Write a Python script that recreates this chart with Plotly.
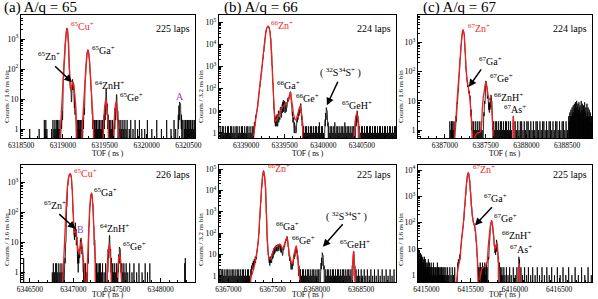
import plotly.graph_objects as go

# ---------------------------------------------------------------- data
# Digitized histogram bins: (TOF reading, counts); fit curves: (TOF reading, counts).
# TOF readings were taken on a per-panel ruler; CAL below maps each ruler onto the
# axis' own tick scale (linear two-point calibration read from the tick labels).

BINS_A1 = [
    # 65Cu / 65Zn
    (6318869, 1), (6318873, 0), (6318877, 2), (6318881, 1), (6318885, 4), (6318889, 2), (6318893, 9),
    (6318897, 25), (6318901, 50), (6318905, 80), (6318909, 130), (6318913, 200), (6318917, 330),
    (6318921, 520), (6318925, 750), (6318929, 1050), (6318933, 1400), (6318937, 1800), (6318941, 2150),
    (6318945, 2300), (6318949, 2100), (6318953, 1700), (6318957, 1300), (6318961, 800), (6318965, 420),
    (6318969, 200), (6318973, 100), (6318977, 60), (6318981, 40), (6318985, 22), (6318989, 12),
    (6318993, 25), (6318997, 8), (6319001, 35), (6319005, 15), (6319009, 45), (6319013, 20),
    (6319017, 42), (6319021, 30), (6319025, 12), (6319029, 28), (6319033, 5), (6319037, 14),
    (6319041, 3), (6319045, 8), (6319049, 1), (6319053, 3), (6319057, 0), (6319061, 2),
    # 65Ga
    (6319131, 1), (6319135, 0), (6319139, 2), (6319143, 1), (6319147, 5), (6319151, 3), (6319155, 18),
    (6319159, 30), (6319163, 45), (6319167, 70), (6319171, 105), (6319175, 150), (6319179, 210),
    (6319183, 290), (6319187, 360), (6319191, 410), (6319195, 435), (6319199, 410), (6319203, 360),
    (6319207, 300), (6319211, 220), (6319215, 160), (6319219, 110), (6319223, 70), (6319227, 45),
    (6319231, 28), (6319235, 18), (6319239, 8), (6319243, 12), (6319247, 3), (6319251, 5),
    (6319255, 1), (6319259, 2),
    # 64ZnH
    (6319380, 1), (6319384, 0), (6319388, 3), (6319392, 1), (6319396, 6), (6319400, 2), (6319404, 12),
    (6319408, 5), (6319412, 22), (6319416, 8), (6319420, 15), (6319424, 3), (6319428, 7), (6319432, 1),
    (6319436, 3), (6319440, 0), (6319444, 1),
    # 65Ge
    (6319505, 1), (6319509, 0), (6319513, 2), (6319517, 1), (6319521, 5), (6319525, 2), (6319529, 9),
    (6319533, 4), (6319537, 14), (6319541, 6), (6319545, 8), (6319549, 2), (6319553, 4), (6319557, 0),
    (6319561, 2),
    # A
    (6320268, 1), (6320272, 0), (6320276, 3), (6320280, 1), (6320284, 6), (6320288, 2), (6320292, 8),
    (6320296, 3), (6320300, 7), (6320304, 2), (6320308, 5), (6320312, 1), (6320316, 3), (6320320, 0),
    (6320324, 2),
    # background
    (6318499, 1), (6318612, 1), (6318674, 2), (6318683, 1), (6318692, 2), (6318705, 1), (6318760, 1),
    (6318777, 2), (6318790, 1), (6318801, 2), (6318812, 1), (6318822, 2), (6318832, 2), (6318840, 1),
    (6318849, 2), (6318858, 1), (6319068, 2), (6319076, 1), (6319084, 2), (6319092, 2), (6319100, 1),
    (6319108, 2), (6319116, 1), (6319123, 2), (6319266, 1), (6319274, 2), (6319282, 1), (6319290, 2),
    (6319299, 2), (6319308, 1), (6319317, 2), (6319326, 1), (6319335, 2), (6319344, 1), (6319353, 2),
    (6319362, 1), (6319371, 2), (6319452, 2), (6319461, 1), (6319470, 2), (6319480, 1), (6319489, 2),
    (6319498, 1), (6319568, 2), (6319578, 1), (6319590, 2), (6319601, 1), (6319614, 2), (6319625, 1),
    (6319638, 2), (6319652, 1), (6319665, 2), (6319690, 1), (6319708, 2), (6319735, 1), (6319760, 2),
    (6319790, 1), (6319812, 2), (6319840, 1), (6319875, 1), (6319907, 2), (6319960, 1), (6320019, 2),
    (6320075, 1), (6320138, 2), (6320190, 1), (6320226, 2), (6320245, 1), (6320345, 2), (6320353, 1),
    (6320362, 2), (6320370, 2), (6320379, 1), (6320388, 2), (6320397, 2), (6320406, 1), (6320415, 2),
    (6320424, 2), (6320433, 1), (6320442, 2), (6320451, 2), (6320460, 1), (6320469, 2),
]
FIT_A1 = [
    (6318850, 0.2), (6318862, 0.6), (6318877, 3), (6318896, 30), (6318916, 300), (6318932, 1300),
    (6318944, 2300), (6318956, 1400), (6318968, 250), (6318980, 40), (6318992, 18), (6319004, 28),
    (6319016, 38), (6319028, 28), (6319044, 8), (6319060, 1.3), (6319075, 0.2),
    (6319110, 0.2), (6319125, 0.8), (6319140, 4), (6319155, 20), (6319170, 100), (6319183, 300),
    (6319195, 430), (6319207, 300), (6319220, 100), (6319235, 20), (6319250, 4), (6319265, 0.8),
    (6319280, 0.2), (6319365, 0.2), (6319380, 1), (6319395, 5), (6319410, 10), (6319425, 5),
    (6319440, 1), (6319455, 0.2), (6319490, 0.2), (6319505, 1), (6319520, 5), (6319533, 8),
    (6319546, 5), (6319561, 1), (6319576, 0.2),
]

BINS_B1 = [
    # 66Zn
    (6339090, 1), (6339094, 0), (6339098, 2), (6339102, 1), (6339106, 3), (6339110, 2), (6339114, 4),
    (6339118, 3), (6339122, 6), (6339126, 5), (6339130, 8), (6339134, 9), (6339138, 12), (6339142, 11),
    (6339145, 14), (6339150, 20), (6339155, 28), (6339160, 45), (6339165, 60), (6339170, 85),
    (6339175, 120), (6339180, 170), (6339185, 240), (6339190, 340), (6339195, 500), (6339200, 700),
    (6339205, 1000), (6339210, 1500), (6339215, 2200), (6339220, 3200), (6339225, 4600),
    (6339230, 6500), (6339235, 9500), (6339240, 14000), (6339245, 20000), (6339250, 28000),
    (6339255, 37000), (6339260, 46000), (6339265, 53000), (6339270, 59000), (6339275, 63000),
    (6339280, 66000), (6339285, 67000), (6339290, 63000), (6339295, 57000), (6339300, 49000),
    (6339305, 40000), (6339310, 31000), (6339315, 20000), (6339320, 11000), (6339325, 5500),
    (6339330, 2500), (6339335, 1100), (6339340, 450), (6339345, 180), (6339350, 70),
    (6339354, 28), (6339358, 12), (6339362, 6), (6339366, 5), (6339370, 3), (6339374, 5),
    (6339378, 2), (6339382, 4),
    (6339386, 6), (6339390, 2), (6339394, 5), (6339398, 3), (6339402, 7), (6339406, 2), (6339410, 8),
    (6339414, 4), (6339418, 10), (6339422, 3), (6339426, 9), (6339430, 5), (6339434, 12), (6339438, 4),
    (6339442, 14), (6339446, 6), (6339450, 15), (6339454, 5), (6339458, 18), (6339462, 7),
    (6339466, 20), (6339470, 8), (6339474, 25), (6339478, 10), (6339482, 30), (6339486, 9),
    (6339490, 22), (6339494, 11), (6339498, 28), (6339502, 8), (6339506, 20), (6339510, 12),
    (6339514, 24), (6339518, 9), (6339522, 18), (6339526, 14), (6339530, 30), (6339534, 20),
    (6339538, 35), (6339542, 25), (6339546, 40), (6339550, 30), (6339554, 40), (6339558, 45),
    (6339562, 55), (6339566, 60), (6339570, 70), (6339574, 72), (6339578, 50), (6339582, 35),
    (6339586, 20), (6339590, 15), (6339594, 8), (6339598, 6), (6339602, 9), (6339606, 3),
    (6339610, 5), (6339614, 2), (6339618, 4), (6339622, 1), (6339626, 3), (6339630, 1), (6339634, 2),
    (6339638, 1), (6339642, 2), (6339646, 1), (6339650, 3), (6339654, 2), (6339658, 4), (6339662, 3),
    (6339666, 5), (6339670, 4), (6339674, 7), (6339678, 5), (6339682, 9), (6339686, 6),
    (6339690, 12), (6339694, 8), (6339698, 16), (6339702, 10), (6339706, 21), (6339710, 9),
    (6339714, 12), (6339718, 4), (6339722, 6), (6339726, 2), (6339730, 3), (6339734, 1),
    # 32S34S
    (6340015, 2), (6340019, 1), (6340023, 4), (6340027, 2), (6340031, 8), (6340035, 4), (6340039, 14),
    (6340043, 6), (6340047, 10), (6340051, 3), (6340055, 6), (6340059, 2), (6340063, 3),
    # 65GeH
    (6340415, 2), (6340419, 1), (6340423, 4), (6340427, 2), (6340431, 7), (6340435, 3), (6340439, 10),
    (6340443, 4), (6340447, 6), (6340451, 2), (6340455, 3),
    # background
    (6338662, 2), (6338676, 1), (6338690, 2), (6338702, 2), (6338716, 1), (6338730, 2), (6338744, 1),
    (6338757, 2), (6338770, 2), (6338784, 1), (6338798, 2), (6338812, 2), (6338826, 1), (6338840, 2),
    (6338853, 1), (6338868, 2), (6338882, 2), (6338896, 1), (6338910, 2), (6338924, 1), (6338938, 2),
    (6338952, 2), (6338966, 1), (6338980, 2), (6338994, 1), (6339008, 2), (6339022, 2), (6339036, 1),
    (6339050, 2), (6339064, 1), (6339078, 2),
    (6339744, 2), (6339755, 1), (6339768, 2), (6339781, 2), (6339794, 1), (6339807, 2), (6339820, 1),
    (6339833, 2), (6339846, 2), (6339859, 1), (6339872, 2), (6339885, 1), (6339898, 2), (6339911, 2),
    (6339924, 1), (6339937, 2), (6339950, 3), (6339963, 1), (6339976, 2), (6339989, 2), (6340002, 1),
    (6340072, 2), (6340085, 1), (6340098, 2), (6340111, 2), (6340124, 1), (6340137, 2), (6340150, 3),
    (6340163, 1), (6340176, 2), (6340189, 2), (6340202, 1), (6340215, 2), (6340228, 1), (6340241, 2),
    (6340254, 2), (6340267, 1), (6340280, 3), (6340293, 2), (6340306, 1), (6340319, 2), (6340332, 2),
    (6340345, 1), (6340358, 2), (6340371, 1), (6340384, 2), (6340397, 2),
    (6340470, 2), (6340483, 1), (6340496, 2), (6340509, 2), (6340522, 1), (6340535, 2), (6340548, 1),
    (6340561, 2), (6340574, 2), (6340587, 1), (6340600, 2), (6340613, 2), (6340626, 1), (6340639, 2),
    (6340652, 1), (6340665, 2), (6340678, 2), (6340691, 1), (6340704, 2), (6340717, 1), (6340730, 2),
    (6340743, 2), (6340756, 1), (6340769, 2), (6340782, 1), (6340795, 2), (6340808, 2), (6340821, 1),
    (6340834, 2), (6340847, 1), (6340860, 2), (6340873, 2), (6340886, 1), (6340899, 2), (6340912, 1),
    (6340925, 2), (6340938, 2),
]
FIT_B1 = [
    (6339086, 0.3), (6339100, 0.8), (6339112, 2), (6339127, 5), (6339142, 11), (6339163, 55),
    (6339185, 250), (6339207, 1200), (6339228, 5600), (6339245, 20000), (6339259, 45000),
    (6339272, 60000), (6339284, 67000), (6339297, 55000), (6339310, 32000), (6339323, 8000),
    (6339336, 1000), (6339347, 150), (6339358, 30), (6339367, 8), (6339375, 3.3), (6339388, 3.6),
    (6339401, 4.5), (6339416, 6), (6339431, 8), (6339452, 11), (6339474, 15), (6339492, 18),
    (6339509, 20), (6339525, 22), (6339539, 25), (6339556, 40), (6339573, 72), (6339586, 35),
    (6339599, 18), (6339612, 8), (6339625, 5), (6339637, 4), (6339647, 4), (6339660, 5.5),
    (6339672, 8), (6339688, 13), (6339703, 17), (6339714, 10), (6339724, 5), (6339735, 1.5),
    (6339746, 0.3), (6340385, 0.3), (6340400, 1), (6340415, 3.5), (6340425, 6), (6340435, 7.5),
    (6340445, 6), (6340455, 3.5), (6340470, 1), (6340485, 0.3),
]

BINS_C1 = [
    # 67Zn / 67Ga
    (6387120, 1), (6387124, 0), (6387128, 2), (6387132, 1), (6387136, 3), (6387140, 2), (6387144, 5),
    (6387148, 4), (6387152, 9), (6387156, 8), (6387160, 16), (6387164, 22), (6387168, 35),
    (6387172, 60), (6387176, 90), (6387180, 140), (6387184, 200), (6387188, 300), (6387192, 420),
    (6387196, 600), (6387200, 850), (6387204, 1100), (6387208, 1500), (6387212, 1900), (6387216, 2300),
    (6387220, 2600), (6387224, 2700), (6387228, 2600), (6387232, 2300), (6387236, 1900),
    (6387240, 1300), (6387244, 800), (6387248, 480), (6387252, 300), (6387256, 180), (6387260, 110),
    (6387264, 70), (6387268, 55), (6387272, 45), (6387276, 40), (6387280, 30), (6387284, 35),
    (6387288, 25), (6387292, 30), (6387296, 18), (6387300, 22), (6387304, 12), (6387308, 15),
    (6387312, 6), (6387316, 9), (6387320, 3), (6387324, 5), (6387328, 1), (6387332, 2),
    # 67Ge / 66ZnH
    (6387470, 2), (6387474, 1), (6387478, 4), (6387482, 3), (6387486, 10), (6387490, 8), (6387494, 25),
    (6387498, 30), (6387502, 48), (6387506, 40), (6387510, 35), (6387514, 28), (6387518, 20),
    (6387522, 12), (6387526, 15), (6387530, 8), (6387534, 10), (6387538, 5), (6387542, 9),
    (6387546, 4), (6387550, 8), (6387554, 5), (6387558, 12), (6387562, 6), (6387566, 16),
    (6387570, 7), (6387574, 10), (6387578, 3), (6387582, 5), (6387586, 1), (6387590, 2),
    # 67As
    (6387836, 1), (6387840, 3), (6387844, 2),
    # background
    (6387062, 2), (6387072, 1), (6387082, 2), (6387092, 2), (6387102, 1), (6387112, 2),
    (6387340, 1), (6387350, 2), (6387362, 1), (6387374, 2), (6387386, 1), (6387398, 2), (6387410, 1),
    (6387422, 2), (6387434, 1), (6387446, 2), (6387458, 1),
    (6387600, 2), (6387612, 1), (6387624, 2), (6387636, 2), (6387648, 1), (6387660, 2), (6387672, 1),
    (6387684, 2), (6387696, 2), (6387708, 1), (6387720, 2), (6387732, 1), (6387744, 2), (6387756, 2),
    (6387768, 1), (6387780, 2), (6387792, 1), (6387804, 2), (6387816, 1),
    (6387862, 2), (6387878, 1), (6387894, 2), (6387910, 1), (6387926, 2), (6387942, 2), (6387958, 1),
    (6387974, 2), (6387990, 1), (6388006, 2), (6388022, 2), (6388038, 1), (6388054, 2), (6388070, 1),
    (6388086, 2), (6388102, 1), (6388118, 2), (6388134, 2), (6388150, 1), (6388166, 2), (6388182, 1),
    (6388198, 2), (6388214, 2), (6388230, 1), (6388246, 2), (6388262, 1), (6388278, 2), (6388294, 2),
    (6388310, 1), (6388326, 2), (6388342, 1), (6388358, 2), (6388374, 2), (6388390, 1), (6388406, 2),
    (6388422, 1), (6388438, 2), (6388454, 2), (6388470, 1), (6388486, 2), (6388502, 1),
    (6388518, 3), (6388525, 2), (6388532, 4), (6388539, 3), (6388546, 5), (6388553, 3), (6388560, 6),
    (6388567, 4), (6388574, 7), (6388581, 4), (6388588, 8), (6388595, 5), (6388602, 9), (6388609, 5),
    (6388616, 10), (6388623, 6), (6388630, 8), (6388637, 5), (6388644, 9), (6388651, 6), (6388658, 7),
    (6388665, 4), (6388672, 10), (6388679, 5), (6388686, 8), (6388693, 4), (6388700, 7), (6388707, 5),
    (6388714, 9), (6388721, 4), (6388728, 6), (6388735, 3), (6388742, 8), (6388749, 4), (6388756, 6),
    (6388763, 3), (6388770, 5), (6388777, 3), (6388784, 4), (6388791, 2), (6388798, 3),
]
FIT_C1 = [
    (6387110, 0.3), (6387125, 0.8), (6387143, 4.7), (6387158, 20), (6387172, 63), (6387185, 200),
    (6387197, 630), (6387210, 1700), (6387217, 2450), (6387225, 2700), (6387232, 2300),
    (6387238, 1800), (6387246, 800), (6387254, 300), (6387262, 110), (6387271, 63), (6387280, 40),
    (6387287, 30), (6387297, 20), (6387307, 13), (6387318, 5), (6387328, 2.2), (6387338, 0.8),
    (6387348, 0.35), (6387360, 0.45), (6387375, 0.65), (6387395, 0.78), (6387415, 0.82),
    (6387435, 0.85), (6387450, 1.3), (6387459, 4.7), (6387470, 12), (6387484, 22), (6387494, 35),
    (6387504, 45), (6387514, 35), (6387525, 20), (6387535, 14), (6387545, 12), (6387556, 11),
    (6387566, 10), (6387574, 6), (6387582, 2.8), (6387592, 1), (6387603, 0.3),
    (6387825, 0.3), (6387835, 1.4), (6387840, 3), (6387845, 1.4), (6387855, 0.3),
]

BINS_A2 = [
    # 65Cu / 65Zn / B
    (6346915, 1), (6346919, 0), (6346923, 3), (6346927, 2), (6346931, 6), (6346935, 10), (6346939, 30),
    (6346943, 60), (6346947, 150), (6346951, 300), (6346955, 500), (6346960, 800), (6346965, 1100),
    (6346970, 1400), (6346975, 1650), (6346980, 1800), (6346985, 1900), (6346990, 1950),
    (6346996, 1900), (6347000, 1700), (6347004, 1500), (6347008, 1300), (6347012, 900),
    (6347016, 600), (6347020, 400), (6347024, 200), (6347028, 100), (6347032, 60), (6347036, 35),
    (6347040, 18), (6347044, 25), (6347048, 12), (6347052, 30), (6347056, 15), (6347060, 45),
    (6347064, 20), (6347068, 28), (6347072, 8), (6347076, 15), (6347080, 4), (6347084, 8),
    (6347088, 2), (6347092, 5), (6347096, 1), (6347100, 4), (6347104, 2), (6347108, 6), (6347112, 3),
    (6347116, 9), (6347120, 4), (6347124, 12), (6347128, 6), (6347132, 14), (6347136, 8),
    (6347140, 10), (6347144, 4), (6347148, 7), (6347152, 2), (6347156, 4), (6347160, 1), (6347164, 2),
    # 65Ga
    (6347215, 1), (6347219, 3), (6347223, 2), (6347227, 8), (6347231, 15), (6347235, 35), (6347239, 70),
    (6347243, 110), (6347247, 170), (6347251, 240), (6347255, 310), (6347259, 370), (6347263, 420),
    (6347267, 440), (6347271, 410), (6347275, 350), (6347279, 280), (6347283, 190), (6347287, 120),
    (6347291, 70), (6347295, 35), (6347299, 18), (6347303, 8), (6347307, 12), (6347311, 3),
    (6347315, 5), (6347319, 1), (6347323, 2),
    # 64ZnH
    (6347466, 1), (6347470, 0), (6347474, 3), (6347478, 1), (6347482, 6), (6347486, 3), (6347490, 11),
    (6347494, 5), (6347498, 17), (6347502, 7), (6347506, 12), (6347510, 3), (6347514, 6), (6347518, 1),
    (6347522, 3), (6347526, 0), (6347530, 1),
    # 65Ge
    (6347603, 1), (6347607, 0), (6347611, 2), (6347615, 1), (6347619, 4), (6347623, 2), (6347627, 7),
    (6347631, 3), (6347635, 6), (6347639, 2), (6347643, 4), (6347647, 1), (6347651, 2),
    # background
    (6346392, 3), (6346762, 1), (6346775, 2), (6346790, 1), (6346805, 2), (6346818, 2), (6346832, 1),
    (6346846, 2), (6346860, 1), (6346874, 2), (6346888, 1), (6346902, 2), (6347172, 2), (6347180, 1),
    (6347190, 2), (6347200, 1), (6347332, 2), (6347342, 1), (6347352, 2), (6347362, 1), (6347372, 2),
    (6347382, 2), (6347395, 1), (6347410, 2), (6347430, 1), (6347450, 2), (6347540, 2), (6347550, 1),
    (6347562, 2), (6347575, 1), (6347588, 2), (6347660, 2), (6347672, 1), (6347685, 2), (6347700, 1),
    (6347715, 2), (6347735, 1), (6347760, 2), (6347790, 1), (6347815, 2), (6347850, 1), (6347880, 2),
    (6347920, 1), (6347960, 2), (6347990, 1), (6348020, 2), (6348470, 2), (6348478, 3),
]
FIT_A2 = [
    (6346890, 0.3), (6346905, 1.5), (6346920, 10), (6346935, 80), (6346950, 400), (6346965, 1100),
    (6346980, 1700), (6346996, 1900), (6347008, 1400), (6347020, 500), (6347032, 90), (6347040, 35),
    (6347047, 21), (6347056, 22), (6347065, 24), (6347075, 16), (6347090, 7), (6347108, 4),
    (6347122, 7), (6347134, 11), (6347146, 7), (6347158, 3.5), (6347168, 2), (6347180, 0.8),
    (6347194, 0.3), (6347200, 0.3), (6347215, 2), (6347228, 15), (6347240, 80), (6347252, 250),
    (6347267, 430), (6347280, 250), (6347292, 70), (6347304, 12), (6347316, 2), (6347330, 0.3),
    (6347460, 0.3), (6347472, 1.2), (6347484, 5), (6347496, 8.6), (6347508, 5), (6347520, 1.2),
    (6347532, 0.3), (6347595, 0.3), (6347607, 1), (6347618, 3), (6347629, 4), (6347640, 3),
    (6347651, 1), (6347663, 0.3),
]

BINS_B2 = [
    # 66Zn
    (6367250, 1), (6367254, 2), (6367258, 1), (6367262, 3), (6367266, 1), (6367270, 2), (6367274, 4),
    (6367278, 2), (6367282, 3), (6367286, 5), (6367290, 2), (6367294, 4), (6367298, 6), (6367302, 3),
    (6367306, 5), (6367310, 8), (6367314, 4), (6367318, 7), (6367322, 10), (6367326, 6), (6367330, 12),
    (6367334, 15), (6367338, 20), (6367342, 28), (6367346, 38), (6367350, 55), (6367354, 90),
    (6367358, 160), (6367362, 280), (6367366, 500), (6367370, 900), (6367374, 1500), (6367378, 2600),
    (6367382, 4500), (6367386, 8000), (6367390, 13000), (6367394, 21000), (6367398, 32000),
    (6367402, 45000), (6367406, 60000), (6367410, 75000), (6367414, 83000), (6367418, 78000),
    (6367422, 62000), (6367426, 48000), (6367430, 35000), (6367434, 24000), (6367438, 15000),
    (6367442, 6000), (6367446, 2500), (6367450, 800), (6367454, 250), (6367458, 90), (6367462, 40),
    (6367466, 22), (6367470, 14), (6367474, 9), (6367478, 6), (6367482, 8), (6367486, 4), (6367490, 7),
    (6367494, 3), (6367498, 6), (6367502, 4), (6367506, 8), (6367510, 5),
    # 66Ga / 66Ge
    (6367514, 9), (6367518, 4), (6367522, 11), (6367526, 6), (6367530, 14), (6367534, 7), (6367538, 17),
    (6367542, 9), (6367546, 20), (6367550, 10), (6367554, 22), (6367558, 12), (6367562, 25),
    (6367566, 13), (6367570, 24), (6367574, 14), (6367578, 27), (6367582, 15), (6367586, 26),
    (6367590, 14), (6367594, 28), (6367598, 16), (6367602, 30), (6367606, 15), (6367610, 28),
    (6367614, 17), (6367618, 31), (6367622, 16), (6367626, 30), (6367630, 14), (6367634, 26),
    (6367638, 12), (6367642, 22), (6367646, 10), (6367650, 18), (6367654, 9), (6367658, 16),
    (6367662, 12), (6367666, 20), (6367670, 16), (6367674, 26), (6367678, 22), (6367682, 32),
    (6367686, 28), (6367690, 40), (6367694, 35), (6367698, 50), (6367702, 45), (6367706, 60),
    (6367710, 70), (6367714, 65), (6367718, 45), (6367722, 30), (6367726, 22), (6367730, 16),
    (6367734, 12), (6367738, 8), (6367742, 10), (6367746, 5), (6367750, 7), (6367754, 3), (6367758, 5),
    (6367762, 2), (6367766, 4), (6367770, 2), (6367774, 3), (6367778, 2), (6367782, 4), (6367786, 3),
    (6367790, 6), (6367794, 4), (6367798, 9), (6367802, 6), (6367806, 13), (6367810, 8), (6367814, 18),
    (6367818, 10), (6367822, 22), (6367826, 14), (6367830, 25), (6367834, 12), (6367838, 16),
    (6367842, 6), (6367846, 9), (6367850, 3), (6367854, 5), (6367858, 1), (6367862, 3), (6367866, 1),
    (6367870, 2),
    # 32S34S
    (6368133, 2), (6368137, 1), (6368141, 4), (6368145, 2), (6368149, 7), (6368153, 3), (6368157, 12),
    (6368161, 5), (6368165, 9), (6368169, 3), (6368173, 5), (6368177, 2), (6368181, 3),
    # 65GeH
    (6368534, 1), (6368538, 3), (6368542, 1), (6368546, 6), (6368550, 3), (6368554, 14), (6368558, 5),
    (6368562, 7), (6368566, 2), (6368570, 3),
    # background
    (6366862, 2), (6366875, 1), (6366888, 2), (6366900, 2), (6366913, 1), (6366926, 2), (6366939, 1),
    (6366952, 2), (6366965, 2), (6366978, 1), (6366991, 2), (6367004, 1), (6367017, 2), (6367030, 2),
    (6367043, 1), (6367056, 2), (6367069, 1), (6367082, 2), (6367095, 2), (6367108, 1), (6367121, 2),
    (6367134, 1), (6367147, 2), (6367160, 2), (6367173, 1), (6367186, 2), (6367199, 1), (6367212, 2),
    (6367225, 2), (6367238, 1),
    (6367882, 2), (6367895, 1), (6367908, 2), (6367921, 2), (6367934, 1), (6367947, 2), (6367960, 1),
    (6367973, 2), (6367986, 2), (6367999, 1), (6368012, 2), (6368025, 1), (6368038, 2), (6368051, 2),
    (6368064, 1), (6368077, 2), (6368090, 1), (6368103, 2), (6368116, 2),
    (6368195, 2), (6368208, 1), (6368221, 2), (6368234, 2), (6368247, 1), (6368260, 2), (6368273, 1),
    (6368286, 2), (6368299, 2), (6368312, 1), (6368325, 2), (6368338, 1), (6368351, 2), (6368364, 2),
    (6368377, 1), (6368390, 2), (6368403, 1), (6368416, 2), (6368429, 2), (6368442, 1), (6368455, 2),
    (6368468, 1), (6368481, 2), (6368494, 2), (6368507, 1), (6368520, 2),
    (6368585, 2), (6368600, 1), (6368615, 2), (6368632, 1), (6368650, 2), (6368668, 1), (6368688, 2),
    (6368708, 1), (6368728, 2), (6368750, 1), (6368772, 2), (6368795, 1), (6368818, 2), (6368840, 1),
    (6368865, 2), (6368890, 1), (6368915, 2), (6368940, 1), (6368965, 2), (6368990, 1), (6369015, 2),
    (6369040, 1), (6369065, 2),
]
FIT_B2 = [
    (6367240, 0.3), (6367260, 0.9), (6367288, 2), (6367322, 8.5), (6367340, 25), (6367352, 60),
    (6367363, 300), (6367373, 1250), (6367384, 6000), (6367394, 21000), (6367405, 55000),
    (6367415, 83000), (6367426, 50000), (6367437, 21000), (6367447, 2500), (6367458, 100),
    (6367469, 20), (6367479, 8.5), (6367495, 6.5), (6367509, 6), (6367525, 10), (6367543, 17),
    (6367565, 22), (6367585, 25), (6367605, 28), (6367628, 30), (6367645, 22), (6367657, 17),
    (6367675, 25), (6367695, 45), (6367712, 67), (6367728, 25), (6367746, 8.5), (6367762, 5),
    (6367776, 3.5), (6367792, 6), (6367806, 12), (6367820, 20), (6367831, 25), (6367845, 9),
    (6367861, 2), (6367875, 0.6), (6367890, 0.3),
    (6368525, 0.3), (6368538, 2), (6368546, 8), (6368552, 14), (6368558, 8), (6368566, 2),
    (6368580, 0.3),
]

BINS_C2 = [
    # 67Zn / 67Ga
    (6415380, 2), (6415384, 1), (6415388, 3), (6415392, 2), (6415396, 4), (6415400, 3), (6415404, 5),
    (6415408, 3), (6415412, 6), (6415416, 4), (6415420, 9), (6415424, 12), (6415428, 16), (6415432, 22),
    (6415436, 30), (6415440, 40), (6415444, 50), (6415448, 60), (6415452, 70), (6415456, 85),
    (6415460, 120), (6415464, 180), (6415468, 260), (6415472, 380), (6415476, 550), (6415480, 800),
    (6415484, 1100), (6415488, 1600), (6415492, 2300), (6415496, 3200), (6415500, 4200),
    (6415504, 5400), (6415508, 6500), (6415512, 7400), (6415516, 7900), (6415520, 7800),
    (6415524, 7000), (6415528, 5800), (6415532, 4400), (6415536, 3200), (6415540, 2200),
    (6415544, 1500), (6415548, 950), (6415552, 600), (6415556, 400), (6415560, 280), (6415564, 200),
    (6415568, 160), (6415572, 130), (6415576, 110), (6415580, 100), (6415584, 90), (6415588, 80),
    (6415592, 75), (6415596, 70), (6415600, 60), (6415604, 45), (6415608, 35), (6415612, 25),
    (6415616, 18), (6415620, 12), (6415624, 8), (6415628, 5), (6415632, 3), (6415636, 4),
    (6415640, 1), (6415644, 2),
    # 67Ge / 66ZnH
    (6415760, 3), (6415764, 5), (6415768, 4), (6415772, 8), (6415776, 12), (6415780, 20), (6415784, 35),
    (6415788, 55), (6415792, 80), (6415796, 100), (6415800, 115), (6415804, 122), (6415808, 118),
    (6415812, 100), (6415816, 80), (6415820, 60), (6415824, 45), (6415828, 35), (6415832, 25),
    (6415836, 18), (6415840, 12), (6415844, 9), (6415848, 7), (6415852, 10), (6415856, 6),
    (6415860, 14), (6415864, 8), (6415868, 22), (6415872, 10), (6415876, 15), (6415880, 5),
    (6415884, 8), (6415888, 3), (6415892, 5), (6415896, 2), (6415900, 3), (6415904, 1), (6415908, 2),
    # 67As
    (6416140, 2), (6416144, 5), (6416148, 3), (6416152, 4), (6416156, 1),
    # background
    (6414898, 10), (6414905, 6), (6414912, 8), (6414919, 4), (6414926, 7), (6414933, 5), (6414940, 6),
    (6414947, 3), (6414954, 5), (6414961, 4), (6414968, 3), (6414975, 5), (6414982, 2), (6414989, 4),
    (6414996, 3), (6415003, 2), (6415010, 3), (6415017, 2), (6415024, 4), (6415031, 2), (6415038, 3),
    (6415045, 1), (6415052, 2), (6415059, 3), (6415066, 2), (6415073, 1), (6415080, 2), (6415087, 3),
    (6415094, 2), (6415101, 1), (6415108, 2), (6415115, 2), (6415122, 1), (6415129, 2), (6415136, 3),
    (6415143, 1), (6415150, 2), (6415157, 2), (6415164, 1), (6415171, 2), (6415178, 1), (6415185, 2),
    (6415192, 2), (6415199, 1), (6415206, 2), (6415213, 1), (6415220, 2), (6415230, 1), (6415240, 2),
    (6415250, 1), (6415262, 2), (6415275, 1), (6415290, 2), (6415305, 1), (6415320, 2), (6415335, 1),
    (6415350, 2),
    (6415652, 2), (6415659, 1), (6415666, 3), (6415673, 2), (6415680, 1), (6415687, 2), (6415694, 3),
    (6415701, 1), (6415708, 2), (6415715, 2), (6415722, 3), (6415729, 1), (6415736, 2), (6415743, 3),
    (6415750, 2),
    (6415918, 2), (6415926, 1), (6415934, 2), (6415945, 1), (6415958, 2), (6415972, 1), (6415990, 2),
    (6416010, 1), (6416030, 2), (6416050, 1), (6416075, 2), (6416100, 1), (6416120, 2),
    (6416170, 2), (6416190, 1), (6416215, 2), (6416240, 1), (6416262, 2), (6416290, 1), (6416315, 2),
    (6416345, 1), (6416372, 2), (6416400, 1), (6416430, 2), (6416460, 1), (6416490, 2), (6416520, 1),
    (6416550, 2), (6416585, 1), (6416620, 2), (6416655, 1), (6416690, 2), (6416725, 1), (6416760, 2),
    (6416800, 1), (6416840, 2), (6416880, 1), (6416920, 2), (6416960, 1), (6417000, 2), (6417040, 1),
]
FIT_C2 = [
    (6415360, 0.3), (6415373, 0.6), (6415392, 1.8), (6415414, 4), (6415435, 20), (6415455, 73),
    (6415470, 300), (6415484, 1000), (6415496, 3000), (6415505, 5600), (6415518, 7900),
    (6415534, 4200), (6415545, 1500), (6415555, 550), (6415568, 200), (6415580, 112), (6415590, 85),
    (6415600, 69), (6415612, 30), (6415621, 12.8), (6415632, 3), (6415642, 0.4), (6415650, 0.35),
    (6415658, 0.5), (6415670, 1.2), (6415690, 1.8), (6415710, 2.1), (6415730, 2.3), (6415750, 3),
    (6415766, 12.8), (6415787, 55), (6415807, 122), (6415828, 40), (6415848, 9.6), (6415869, 17),
    (6415890, 4), (6415911, 0.3),
    (6416135, 0.3), (6416142, 1.2), (6416147, 2.6), (6416152, 1.2), (6416160, 0.3),
]

# ruler readings at the two frame edges -> axis TOF at the same edges
CAL_A1 = (6318395, 6320477, 6318498, 6320580)
CAL_B1 = (6338647, 6340944, 6338647, 6340944)
CAL_C1 = (6386672, 6388804, 6386672, 6388804)
CAL_A2 = (6346358, 6348603, 6346397, 6348396)
CAL_B2 = (6366852, 6369090, 6366893, 6368894)
CAL_C2 = (6414896, 6417049, 6414904, 6416872)

TITLES = ["(a) A/q = 65", "(b) A/q = 66", "(c) A/q = 67"]
LAPS = ["225 laps", "224 laps", "224 laps", "226 laps", "225 laps", "225 laps"]
YLABELS = ["Counts / 1.6 ns bin", "Counts / 3.2 ns bin", "Counts / 1.6 ns bin"]
XLABEL = "TOF ( ns )"

# ---------------------------------------------------------------- style
FONT = "Liberation Serif"
RED = "#f01e1e"
PURPLE = "#8a3fd1"
FLOOR = 0.3     # drawing level for empty bins (below the axis range)
GAP = 6.5       # bins closer than this belong to one contiguous run
BARW = 1.6
W, H = 598, 299
COLS = [(21, 195), (219, 396), (418, 592)]
ROWS = [(15, 138), (165, 282)]


def iso(m, el):
    return f"<sup>{m}</sup>{el}<sup>+</sup>"


S2 = "( <sup>32</sup>S<sup>34</sup>S<sup>+</sup> )"

PANELS = [
    dict(bins=BINS_A1, fit=FIT_A1, cal=CAL_A1, yr=[-0.3, 3.8], ymax=3, r=0, c=0,
         labels=[(iso(65, "Cu"), 6318970, 3.42, "left", RED), (iso(65, "Ga"), 6319215, 2.64, "left", "black"),
                 (iso(65, "Zn"), 6318733, 2.42, "center", "black"), (iso(64, "ZnH"), 6319255, 1.48, "left", "black"),
                 (iso(65, "Ge"), 6319561, 1.07, "left", "black"), ("A", 6320297, 1.09, "center", PURPLE)],
         arrow=(6319004, 1.56, 6318785, 2.14)),
    dict(bins=BINS_B1, fit=FIT_B1, cal=CAL_B1, yr=[-0.23, 5.33], ymax=5, r=0, c=1,
         labels=[(iso(66, "Zn"), 6339302, 4.87, "left", RED), (iso(66, "Ga"), 6339543, 2.16, "center", "black"),
                 (iso(66, "Ge"), 6339616, 1.6, "left", "black"), (S2, 6340220, 2.73, "center", "black"),
                 (iso(65, "GeH"), 6340444, 1.28, "center", "black")],
         arrow=(6340047, 1.25, 6340198, 2.38)),
    dict(bins=BINS_C1, fit=FIT_C1, cal=CAL_C1, yr=[-0.27, 3.94], ymax=3, r=0, c=2,
         labels=[(iso(67, "Zn"), 6387254, 3.48, "left", RED), (iso(67, "Ga"), 6387562, 2.36, "center", "black"),
                 (iso(67, "Ge"), 6387533, 1.78, "left", "black"), (iso(66, "ZnH"), 6387574, 1.12, "left", "black"),
                 (iso(67, "As"), 6387697, 0.73, "left", "black")],
         arrow=(6387295, 1.48, 6387459, 2.13)),
    dict(bins=BINS_A2, fit=FIT_A2, cal=CAL_A2, yr=[-0.32, 3.57], ymax=3, r=1, c=0,
         labels=[(iso(65, "Cu"), 6347017, 3.32, "left", RED), (iso(65, "Ga"), 6347276, 2.66, "left", "black"),
                 (iso(65, "Zn"), 6346793, 2.25, "center", "black"), ("B", 6347125, 1.43, "center", PURPLE),
                 (iso(64, "ZnH"), 6347349, 1.48, "left", "black"), (iso(65, "Ge"), 6347650, 0.88, "left", "black")],
         arrow=(6347060, 1.45, 6346832, 1.98)),
    dict(bins=BINS_B2, fit=FIT_B2, cal=CAL_B2, yr=[-0.29, 5.19], ymax=5, r=1, c=1,
         labels=[(iso(66, "Zn"), 6367445, 5.03, "left", RED), (iso(66, "Ga"), 6367721, 2.32, "center", "black"),
                 (iso(66, "Ge"), 6367755, 1.7, "left", "black"), (S2, 6368463, 2.79, "center", "black"),
                 (iso(65, "GeH"), 6368573, 1.47, "center", "black")],
         arrow=(6368166, 1.36, 6368433, 2.48)),
    dict(bins=BINS_C2, fit=FIT_C2, cal=CAL_C2, yr=[-0.26, 4.19], ymax=4, r=1, c=2,
         labels=[(iso(67, "Zn"), 6415551, 4.03, "left", RED), (iso(67, "Ga"), 6415861, 2.93, "center", "black"),
                 (iso(67, "Ge"), 6415815, 2.18, "left", "black"), (iso(66, "ZnH"), 6415911, 1.51, "left", "black"),
                 (iso(67, "As"), 6416006, 1.0, "left", "black")],
         arrow=(6415600, 1.89, 6415828, 2.64)),
]


def make_cal(c):
    a, b, lo, hi = c
    return lambda t: None if t is None else lo + (t - a) * (hi - lo) / (b - a)


def hist_path(bins):
    bins = sorted(bins)
    xs, ys = [], []
    i, n = 0, len(bins)
    while i < n:
        j = i
        while j + 1 < n and bins[j + 1][0] - bins[j][0] <= GAP:
            j += 1
        run = bins[i:j + 1]
        xs += [run[0][0], run[0][0]]
        ys += [FLOOR, max(run[0][1], FLOOR)]
        for k in range(1, len(run)):
            t, c = run[k]
            xs += [t, t]
            ys += [max(run[k - 1][1], FLOOR), max(c, FLOOR)]
        tl = run[-1][0] + BARW
        xs += [tl, tl, None]
        ys += [max(run[-1][1], FLOOR), FLOOR, None]
        i = j + 1
    return xs, ys


fig = go.Figure()
annotations = []
layout = {}
minor_y = [m * 10.0 ** k for k in range(-1, 6) for m in range(2, 10)]

for idx, p in enumerate(PANELS):
    n = idx + 1
    xa = "x" if n == 1 else f"x{n}"
    ya = "y" if n == 1 else f"y{n}"
    l, r = COLS[p["c"]]
    t, b = ROWS[p["r"]]
    cal = make_cal(p["cal"])
    hx, hy = hist_path(p["bins"])
    fig.add_trace(go.Scatter(x=[cal(v) for v in hx], y=hy, mode="lines", xaxis=xa, yaxis=ya,
                             line=dict(color="black", width=0.8), showlegend=False, hoverinfo="skip"))
    fig.add_trace(go.Scatter(x=[cal(q[0]) for q in p["fit"]], y=[q[1] for q in p["fit"]], mode="lines",
                             xaxis=xa, yaxis=ya, line=dict(color=RED, width=1.3, shape="spline", smoothing=0.6),
                             showlegend=False, hoverinfo="skip"))
    tickv = [10 ** k for k in range(0, p["ymax"] + 1)]
    tickt = ["1", "10"] + [f"10<sup>{k}</sup>" for k in range(2, p["ymax"] + 1)]
    layout["xaxis" if n == 1 else f"xaxis{n}"] = dict(
        domain=[l / W, r / W], range=[p["cal"][2], p["cal"][3]], anchor=ya, tickmode="linear", tick0=0,
        dtick=500, tickformat="d", ticks="inside", ticklen=4, tickcolor="black", showline=True,
        linecolor="black", linewidth=1, mirror=True, showgrid=False, zeroline=False,
        tickfont=dict(family=FONT, size=7.5, color="black"),
        minor=dict(ticks="inside", ticklen=2, dtick=100, tickcolor="black", showgrid=False))
    layout["yaxis" if n == 1 else f"yaxis{n}"] = dict(
        domain=[1 - b / H, 1 - t / H], type="log", range=p["yr"], anchor=xa, tickmode="array",
        tickvals=tickv, ticktext=tickt, ticks="inside", ticklen=4, tickcolor="black", showline=True,
        linecolor="black", linewidth=1, mirror=True, showgrid=False, zeroline=False,
        tickfont=dict(family=FONT, size=8, color="black"),
        minor=dict(ticks="inside", ticklen=2, tickmode="array", tickvals=minor_y, tickcolor="black",
                   showgrid=False))
    for text, x, y, anc, col in p["labels"]:
        annotations.append(dict(text=text, x=cal(x), y=y, xref=xa, yref=ya, xanchor=anc, yanchor="middle",
                                showarrow=False, font=dict(family=FONT, size=10, color=col)))
    hx0, hy0, tx0, ty0 = p["arrow"]
    annotations.append(dict(text="", x=cal(hx0), y=hy0, ax=cal(tx0), ay=ty0, xref=xa, yref=ya,
                            axref=xa, ayref=ya, showarrow=True, arrowhead=2, arrowsize=1, arrowwidth=1.5,
                            arrowcolor="black"))
    annotations.append(dict(text=LAPS[idx], x=0.985, y=0.89 if p["r"] == 0 else 0.92,
                            xref=f"{xa} domain", yref=f"{ya} domain", xanchor="right", yanchor="middle",
                            showarrow=False, font=dict(family=FONT, size=10, color="black")))
    annotations.append(dict(text=XLABEL, x=(l + r) / 2 / W, y=1 - (159 if p["r"] == 0 else 300) / H,
                            xref="paper", yref="paper", xanchor="center", yanchor="bottom", showarrow=False,
                            borderpad=0, font=dict(family=FONT, size=7.5, color="black")))
    ylx = [7, 201, 401][p["c"]]
    yly = [97, 240][p["r"]]
    annotations.append(dict(text=YLABELS[p["c"]], x=ylx / W, y=1 - yly / H, xref="paper", yref="paper",
                            xanchor="center", yanchor="middle", textangle=-90, showarrow=False,
                            font=dict(family=FONT, size=7, color="black")))

for k, title in enumerate(TITLES):
    annotations.append(dict(text=title, x=[2, 222, 421][k] / W, y=1 - 8 / H, xref="paper", yref="paper",
                            xanchor="left", yanchor="middle", showarrow=False,
                            font=dict(family=FONT, size=15, color="black")))

fig.update_layout(template="none", width=W, height=H, margin=dict(l=0, r=0, t=0, b=0),
                  paper_bgcolor="white", plot_bgcolor="white",
                  font=dict(family=FONT, color="black"), annotations=annotations, **layout)
fig.write_html("out.html", config={"displayModeBar": False},
               post_script="document.body.style.margin='0';document.body.style.overflow='hidden';")
